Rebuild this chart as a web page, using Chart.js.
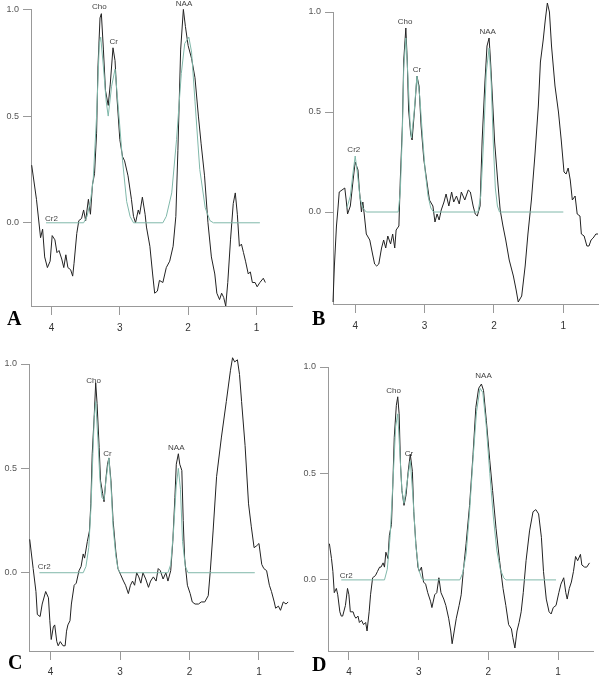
<!DOCTYPE html>
<html>
<head>
<meta charset="utf-8">
<script src="https://cdn.jsdelivr.net/npm/chart.js@4"></script>
<style>
  body { margin: 0; background: #fff; width: 600px; height: 678px; position: relative; overflow: hidden; }
  canvas { position: absolute; }
  .letra { position: absolute; font: bold 20px "Liberation Serif", serif; line-height: 20px; color: #000; }
</style>
</head>
<body>
<canvas id="graficoA" width="300" height="339" style="left:0;top:0"></canvas>
<canvas id="graficoB" width="300" height="339" style="left:300px;top:0"></canvas>
<canvas id="graficoC" width="300" height="339" style="left:0;top:339px"></canvas>
<canvas id="graficoD" width="300" height="339" style="left:300px;top:339px"></canvas>
<div class="letra" style="left:7px;top:308px">A</div>
<div class="letra" style="left:312px;top:308px">B</div>
<div class="letra" style="left:8px;top:652px">C</div>
<div class="letra" style="left:312px;top:654px">D</div>
<script>
// ticks comunes (ppm y amplitud)
const ticksX = [4, 3, 2, 1];
const ticksY = [0, 0.5, 1];

// espectro medido [ppm, amplitud] y ajuste del modelo
const espectroA = [[4.29,0.27],[4.22,0.11],[4.16,-0.07],[4.13,-0.03],[4.10,-0.16],[4.06,-0.21],[4.02,-0.18],[3.99,-0.06],[3.95,-0.08],[3.92,-0.14],[3.89,-0.13],[3.85,-0.17],[3.82,-0.21],[3.79,-0.15],[3.76,-0.21],[3.72,-0.22],[3.69,-0.25],[3.67,-0.19],[3.63,-0.05],[3.60,0.01],[3.56,0.02],[3.53,0.06],[3.50,0.01],[3.46,0.11],[3.43,0.04],[3.40,0.18],[3.37,0.23],[3.34,0.42],[3.32,0.73],[3.29,0.96],[3.27,0.98],[3.24,0.81],[3.21,0.62],[3.17,0.55],[3.14,0.65],[3.10,0.82],[3.07,0.76],[3.04,0.58],[3.00,0.39],[2.96,0.31],[2.93,0.29],[2.88,0.22],[2.83,0.11],[2.80,0.03],[2.77,0.00],[2.73,0.06],[2.71,0.04],[2.67,0.12],[2.63,0.04],[2.61,-0.02],[2.56,-0.11],[2.52,-0.24],[2.49,-0.33],[2.45,-0.32],[2.42,-0.27],[2.37,-0.28],[2.32,-0.21],[2.27,-0.18],[2.22,-0.11],[2.18,0.03],[2.15,0.34],[2.11,0.81],[2.07,1.00],[2.04,0.92],[2.00,0.83],[1.95,0.77],[1.90,0.68],[1.85,0.50],[1.81,0.37],[1.76,0.22],[1.71,0.00],[1.66,-0.16],[1.61,-0.24],[1.58,-0.33],[1.54,-0.36],[1.51,-0.33],[1.48,-0.35],[1.45,-0.39],[1.42,-0.28],[1.38,-0.08],[1.34,0.09],[1.31,0.14],[1.28,0.04],[1.25,-0.11],[1.22,-0.10],[1.19,-0.14],[1.16,-0.18],[1.12,-0.24],[1.09,-0.23],[1.06,-0.28],[1.02,-0.28],[0.99,-0.30],[0.95,-0.28],[0.90,-0.26],[0.87,-0.28]];
const ajusteA = [[4.08,0],[3.53,0],[3.48,0.03],[3.43,0.10],[3.39,0.20],[3.34,0.50],[3.30,0.84],[3.28,0.87],[3.24,0.73],[3.20,0.57],[3.17,0.50],[3.12,0.64],[3.07,0.72],[3.02,0.53],[2.96,0.29],[2.90,0.10],[2.85,0.03],[2.80,0],[2.37,0],[2.32,0.03],[2.24,0.14],[2.17,0.39],[2.10,0.70],[2.05,0.84],[1.99,0.87],[1.95,0.80],[1.90,0.57],[1.83,0.25],[1.75,0.07],[1.68,0.01],[1.63,0],[0.95,0]];
const picosA = [['Cho',3.30,1.01],['Cr',3.09,0.85],['NAA',2.06,1.025],['Cr2',4.00,0.02]];

const espectroB = [[4.32,-0.45],[4.30,-0.27],[4.27,-0.07],[4.25,0.01],[4.23,0.10],[4.19,0.11],[4.15,0.12],[4.13,0.06],[4.11,-0.01],[4.07,0.03],[4.03,0.16],[4.00,0.25],[3.96,0.21],[3.94,0.11],[3.91,0.00],[3.89,0.05],[3.87,-0.01],[3.84,-0.11],[3.79,-0.14],[3.75,-0.21],[3.72,-0.26],[3.69,-0.27],[3.66,-0.26],[3.62,-0.18],[3.59,-0.14],[3.56,-0.18],[3.53,-0.12],[3.49,-0.16],[3.46,-0.11],[3.43,-0.18],[3.41,-0.09],[3.37,-0.07],[3.35,0.16],[3.32,0.43],[3.30,0.76],[3.27,0.92],[3.25,0.76],[3.23,0.51],[3.20,0.39],[3.18,0.36],[3.14,0.53],[3.11,0.68],[3.08,0.63],[3.05,0.43],[3.01,0.26],[2.97,0.16],[2.93,0.06],[2.88,0.03],[2.85,-0.05],[2.82,-0.01],[2.79,-0.04],[2.76,0.01],[2.72,0.05],[2.69,0.09],[2.65,0.03],[2.61,0.10],[2.58,0.05],[2.54,0.08],[2.50,0.04],[2.47,0.10],[2.42,0.06],[2.37,0.11],[2.34,0.10],[2.30,0.03],[2.27,-0.01],[2.24,-0.02],[2.20,0.03],[2.17,0.36],[2.13,0.65],[2.10,0.83],[2.07,0.87],[2.05,0.76],[2.02,0.56],[1.99,0.35],[1.94,0.13],[1.91,0.01],[1.87,-0.07],[1.83,-0.14],[1.78,-0.24],[1.72,-0.32],[1.68,-0.39],[1.65,-0.45],[1.60,-0.42],[1.55,-0.27],[1.51,-0.11],[1.46,0.06],[1.41,0.28],[1.36,0.53],[1.33,0.75],[1.29,0.86],[1.26,0.96],[1.23,1.045],[1.20,1.00],[1.17,0.83],[1.12,0.63],[1.07,0.50],[1.03,0.36],[0.99,0.20],[0.96,0.19],[0.93,0.22],[0.90,0.16],[0.87,0.06],[0.83,0.08],[0.80,-0.01],[0.76,-0.02],[0.74,-0.11],[0.70,-0.12],[0.66,-0.17],[0.63,-0.17],[0.60,-0.14],[0.57,-0.13],[0.53,-0.11],[0.50,-0.11]];
const ajusteB = [[4.12,0.02],[4.07,0.08],[4.03,0.20],[4.00,0.28],[3.97,0.20],[3.93,0.07],[3.89,0.02],[3.84,0],[3.38,0],[3.35,0.10],[3.32,0.40],[3.30,0.72],[3.27,0.87],[3.24,0.68],[3.21,0.45],[3.19,0.37],[3.15,0.50],[3.11,0.68],[3.07,0.58],[3.03,0.38],[2.99,0.20],[2.95,0.08],[2.91,0.02],[2.87,0],[2.23,0],[2.19,0.08],[2.15,0.35],[2.11,0.70],[2.07,0.82],[2.04,0.65],[2.01,0.35],[1.98,0.12],[1.95,0.03],[1.92,0],[1.00,0]];
const picosB = [['Cho',3.28,0.95],['Cr',3.11,0.71],['NAA',2.09,0.90],['Cr2',4.02,0.31]];

const espectroC = [[4.30,0.16],[4.25,0.02],[4.21,-0.09],[4.19,-0.20],[4.15,-0.21],[4.12,-0.15],[4.07,-0.09],[4.03,-0.12],[4.01,-0.23],[3.99,-0.32],[3.96,-0.26],[3.94,-0.25],[3.91,-0.33],[3.89,-0.35],[3.86,-0.33],[3.82,-0.35],[3.79,-0.35],[3.77,-0.28],[3.75,-0.25],[3.72,-0.23],[3.70,-0.15],[3.66,-0.06],[3.63,-0.05],[3.59,0.01],[3.56,0.03],[3.53,0.09],[3.51,0.07],[3.47,0.15],[3.44,0.20],[3.42,0.33],[3.40,0.57],[3.37,0.76],[3.35,0.91],[3.33,0.81],[3.30,0.60],[3.28,0.44],[3.25,0.38],[3.23,0.34],[3.20,0.46],[3.18,0.52],[3.16,0.55],[3.13,0.44],[3.10,0.25],[3.06,0.10],[3.03,0.02],[2.99,-0.01],[2.95,-0.04],[2.92,-0.06],[2.88,-0.10],[2.85,-0.06],[2.82,-0.04],[2.79,-0.06],[2.76,0.00],[2.73,-0.02],[2.70,-0.05],[2.67,0.00],[2.63,-0.03],[2.59,-0.07],[2.56,-0.04],[2.52,-0.02],[2.48,-0.04],[2.45,0.02],[2.42,0.01],[2.38,-0.03],[2.34,0.00],[2.31,-0.04],[2.27,0.01],[2.24,0.15],[2.21,0.36],[2.19,0.52],[2.16,0.57],[2.14,0.52],[2.11,0.49],[2.09,0.25],[2.07,0.07],[2.03,-0.06],[1.99,-0.10],[1.96,-0.14],[1.92,-0.15],[1.87,-0.15],[1.83,-0.14],[1.78,-0.14],[1.73,-0.11],[1.70,0.01],[1.66,0.20],[1.61,0.46],[1.54,0.65],[1.47,0.82],[1.41,0.97],[1.38,1.03],[1.35,1.01],[1.31,1.02],[1.28,0.95],[1.25,0.82],[1.20,0.61],[1.15,0.33],[1.11,0.22],[1.07,0.12],[1.03,0.13],[1.00,0.14],[0.96,0.04],[0.93,0.02],[0.89,0.01],[0.85,-0.06],[0.82,-0.09],[0.78,-0.14],[0.76,-0.17],[0.72,-0.16],[0.69,-0.18],[0.65,-0.14],[0.61,-0.15],[0.58,-0.14]];
const ajusteC = [[4.16,0],[3.53,0],[3.49,0.03],[3.45,0.12],[3.42,0.30],[3.39,0.57],[3.37,0.75],[3.35,0.82],[3.32,0.65],[3.29,0.45],[3.26,0.36],[3.23,0.35],[3.20,0.45],[3.16,0.55],[3.13,0.42],[3.10,0.22],[3.06,0.08],[3.03,0.02],[3.00,0],[2.31,0],[2.27,0.04],[2.23,0.20],[2.19,0.42],[2.16,0.50],[2.13,0.40],[2.10,0.15],[2.06,0.03],[2.02,0],[1.06,0]];
const picosC = [['Cho',3.38,0.92],['Cr',3.18,0.57],['NAA',2.19,0.60],['Cr2',4.09,0.03]];

const espectroD = [[4.28,0.17],[4.25,0.10],[4.23,0.04],[4.21,-0.06],[4.18,-0.04],[4.16,-0.07],[4.13,-0.15],[4.11,-0.17],[4.09,-0.17],[4.05,-0.12],[4.02,-0.04],[4.00,-0.07],[3.98,-0.15],[3.94,-0.15],[3.92,-0.17],[3.90,-0.18],[3.87,-0.17],[3.85,-0.20],[3.82,-0.19],[3.79,-0.21],[3.76,-0.20],[3.74,-0.24],[3.71,-0.15],[3.69,-0.07],[3.66,0.01],[3.62,0.02],[3.59,0.04],[3.56,0.06],[3.54,0.06],[3.51,0.08],[3.49,0.06],[3.47,0.13],[3.44,0.10],[3.42,0.21],[3.39,0.26],[3.37,0.45],[3.35,0.67],[3.32,0.82],[3.30,0.86],[3.28,0.78],[3.26,0.54],[3.24,0.42],[3.21,0.35],[3.18,0.40],[3.15,0.51],[3.12,0.59],[3.09,0.51],[3.07,0.32],[3.04,0.17],[3.01,0.06],[2.99,0.04],[2.96,0.06],[2.93,-0.01],[2.90,-0.02],[2.87,-0.06],[2.83,-0.10],[2.81,-0.13],[2.77,-0.07],[2.74,-0.06],[2.71,0.01],[2.68,-0.06],[2.64,-0.09],[2.61,-0.12],[2.57,-0.18],[2.54,-0.24],[2.52,-0.30],[2.49,-0.24],[2.46,-0.18],[2.42,-0.12],[2.39,-0.07],[2.36,0.04],[2.32,0.17],[2.27,0.35],[2.22,0.59],[2.18,0.81],[2.14,0.90],[2.10,0.92],[2.07,0.89],[2.03,0.75],[1.98,0.56],[1.94,0.42],[1.89,0.24],[1.84,0.09],[1.79,-0.04],[1.75,-0.12],[1.71,-0.21],[1.67,-0.23],[1.65,-0.27],[1.62,-0.32],[1.59,-0.24],[1.56,-0.20],[1.53,-0.15],[1.50,-0.06],[1.46,0.09],[1.41,0.23],[1.36,0.32],[1.32,0.33],[1.28,0.31],[1.24,0.20],[1.21,0.04],[1.17,-0.09],[1.13,-0.15],[1.10,-0.16],[1.07,-0.13],[1.03,-0.12],[0.99,-0.06],[0.96,-0.02],[0.92,0.01],[0.89,-0.06],[0.87,-0.09],[0.84,-0.04],[0.81,-0.01],[0.78,0.04],[0.75,0.11],[0.72,0.09],[0.68,0.12],[0.66,0.07],[0.62,0.06],[0.59,0.06],[0.55,0.08]];
const ajusteD = [[4.11,0],[3.49,0],[3.45,0.05],[3.41,0.20],[3.37,0.45],[3.33,0.72],[3.30,0.78],[3.27,0.60],[3.24,0.42],[3.21,0.36],[3.17,0.45],[3.12,0.56],[3.08,0.38],[3.04,0.16],[3.00,0.05],[2.96,0.01],[2.94,0],[2.41,0],[2.37,0.03],[2.32,0.12],[2.27,0.32],[2.22,0.57],[2.17,0.79],[2.12,0.90],[2.08,0.88],[2.03,0.72],[1.98,0.50],[1.93,0.30],[1.88,0.14],[1.83,0.05],[1.78,0.01],[1.75,0],[1.03,0]];
const picosD = [['Cho',3.36,0.89],['Cr',3.14,0.59],['NAA',2.07,0.96],['Cr2',4.04,0.02]];

// etiquetas de los picos en coordenadas de datos
const etiquetasPicos = {
    id: 'etiquetasPicos',
    afterDatasetsDraw(chart, args, opts) {
        const { ctx, scales: { x, y } } = chart;
        ctx.save();
        ctx.font = '8px "Liberation Sans", Arial, sans-serif';
        ctx.fillStyle = '#444';
        ctx.textAlign = 'center';
        ctx.textBaseline = 'middle';
        (opts.lista || []).forEach(([texto, ppm, valor]) => {
            ctx.fillText(texto, x.getPixelForValue(ppm), y.getPixelForValue(valor));
        });
        ctx.restore();
    }
};

const aPuntos = arr => arr.map(([x, y]) => ({ x, y }));

function inicializarEspectro(canvasId, espectro, ajuste, picos, caja) {
    const canvas = document.getElementById(canvasId);
    if (!canvas) {
        console.error('No se encontró el canvas:', canvasId);
        return;
    }
    new Chart(canvas, {
        type: 'line',
        data: {
            datasets: [
                { data: aPuntos(espectro), borderColor: '#222', borderWidth: 1, pointRadius: 0, tension: 0, clip: false, order: 2 },
                { data: aPuntos(ajuste), borderColor: '#80b8aa', borderWidth: 1, pointRadius: 0, tension: 0, clip: false, order: 1 }
            ]
        },
        options: {
            responsive: false,
            animation: false,
            layout: { padding: { top: caja.top, right: caja.right, left: 0, bottom: 0 } },
            plugins: { legend: { display: false }, tooltip: { enabled: false }, etiquetasPicos: { lista: picos } },
            scales: {
                x: {
                    type: 'linear', reverse: true, min: caja.xMin, max: caja.xMax,
                    afterBuildTicks: s => { s.ticks = ticksX.map(v => ({ value: v })); },
                    afterFit: s => { s.height = caja.altoX; },
                    border: { color: '#999' },
                    grid: { drawOnChartArea: false, tickLength: 9, color: '#999' },
                    ticks: { color: '#333', padding: caja.padX, font: { family: 'Liberation Sans', size: 10 }, callback: v => String(v) }
                },
                y: {
                    type: 'linear', min: caja.yMin, max: 1,
                    afterBuildTicks: s => { s.ticks = ticksY.map(v => ({ value: v })); },
                    afterFit: s => { s.width = caja.anchoY; },
                    border: { color: '#999' },
                    grid: { drawOnChartArea: false, tickLength: 8, color: '#999' },
                    ticks: { color: '#555', padding: 4, font: { family: 'Liberation Sans', size: 9 }, callback: v => v.toFixed(1) }
                }
            }
        },
        plugins: [etiquetasPicos]
    });
}

document.addEventListener('DOMContentLoaded', () => {
    inicializarEspectro('graficoA', espectroA, ajusteA, picosA, { xMin: 0.48, xMax: 4.30, yMin: -0.39, top: 9, right: 8, anchoY: 31, altoX: 33, padX: 7 });
    inicializarEspectro('graficoB', espectroB, ajusteB, picosB, { xMin: 0.50, xMax: 4.32, yMin: -0.46, top: 12, right: 2, anchoY: 33, altoX: 35, padX: 7 });
    inicializarEspectro('graficoC', espectroC, ajusteC, picosC, { xMin: 0.51, xMax: 4.31, yMin: -0.375, top: 25, right: 7, anchoY: 29, altoX: 27, padX: 6 });
    inicializarEspectro('graficoD', espectroD, ajusteD, picosD, { xMin: 0.50, xMax: 4.30, yMin: -0.334, top: 28, right: 7, anchoY: 28, altoX: 27, padX: 6 });
});
</script>
</body>
</html>
